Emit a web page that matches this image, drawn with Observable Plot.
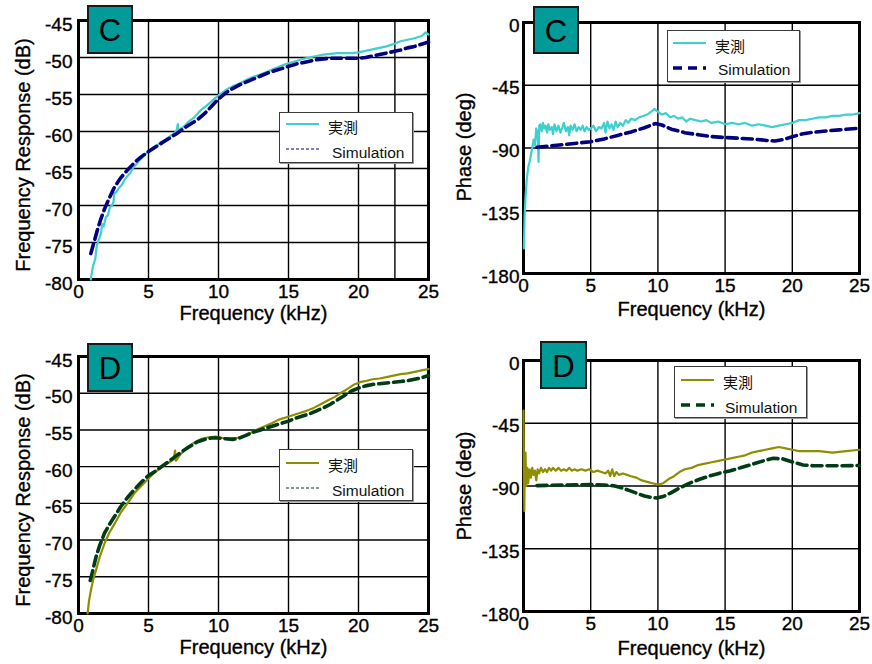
<!DOCTYPE html>
<html>
<head>
<meta charset="utf-8">
<script src="https://cdn.jsdelivr.net/npm/d3@7"></script>
<script src="https://cdn.jsdelivr.net/npm/@observablehq/plot@0.6"></script>
<style>
  html, body { margin: 0; padding: 0; background: #fff; }
  #root { position: relative; width: 872px; height: 664px; overflow: hidden; font-family: "Liberation Sans", Arial, sans-serif; }
  #root svg.panel text { stroke: #000; stroke-width: 0.35px; }
  .panel { position: absolute; }
  .tag { position: absolute; box-sizing: border-box; background: #009a98; border: 2px solid #1a1a1a;
         font: 31px "Liberation Sans", Arial, sans-serif; color: #000; display: flex; align-items: center; justify-content: center; padding-top: 3px; }
  .legend { position: absolute; box-sizing: border-box; background: #fff; border: 1px solid #3a3a3a; box-shadow: 1px 1px 0 #9a9a9a; }
  .legend svg { position: absolute; left: 0; top: 0; }
  .legend .t { position: absolute; white-space: nowrap; line-height: 1; color: #111; }
  .jp { font: 15px "Noto Sans CJK JP", sans-serif; }
  .en { font: 15.5px "Liberation Sans", Arial, sans-serif; }
</style>
</head>
<body>
<div id="root"></div>
<script>
// ---------------- data ----------------
const xTicks = [0, 5, 10, 15, 20, 25];
const dbTicks = [-80, -75, -70, -65, -60, -55, -50, -45];
const phaseTicks = [-180, -135, -90, -45, 0];
const extraGridC = [22.6];

const seriesNames = ["実測", "Simulation"];

// Panel C : frequency response (kHz, dB)
const cMagMeasured = [[0.88,-80],[1.0,-78.5],[1.1,-77.8],[1.2,-77.2],[1.3,-75.5],[1.45,-74.6],[1.6,-73.8],[1.7,-72.5],[1.8,-72.8],[1.95,-71.6],[2.1,-71.3],[2.25,-70.2],[2.4,-70],[2.5,-69.5],[2.55,-68.4],[2.7,-68.2],[2.9,-67.6],[3.1,-67.2],[3.3,-66.5],[3.5,-66],[3.7,-65.6],[3.9,-64.9],[4.1,-64.5],[4.4,-63.8],[4.7,-63.2],[5.0,-62.7],[5.3,-62.2],[5.6,-61.9],[5.9,-61.4],[6.2,-61.1],[6.5,-60.7],[6.8,-60.3],[7.0,-59.9],[7.1,-59.0],[7.15,-60.2],[7.3,-59.6],[7.6,-59.2],[7.9,-58.6],[8.2,-58.2],[8.5,-57.6],[8.8,-57.0],[9.1,-56.6],[9.4,-56.1],[9.7,-55.6],[10.0,-55.1],[10.3,-54.7],[10.6,-54.3],[11.0,-53.9],[11.5,-53.5],[12.0,-53.0],[12.5,-52.6],[13.0,-52.3],[13.5,-51.9],[14.0,-51.5],[14.5,-51.1],[15.0,-50.8],[15.5,-50.5],[16.0,-50.2],[16.5,-50.0],[17.0,-49.8],[17.5,-49.6],[18.0,-49.5],[18.5,-49.4],[19.0,-49.4],[19.5,-49.4],[20.0,-49.3],[20.5,-49.1],[21.0,-48.9],[21.5,-48.7],[22.0,-48.5],[22.6,-48.1],[23.0,-47.8],[23.5,-47.6],[24.0,-47.4],[24.5,-47.1],[24.8,-46.6],[25.0,-46.9]];
const cMagSim = [[0.88,-76.5],[1.1,-75],[1.35,-73.3],[1.6,-71.8],[1.85,-70.5],[2.2,-69],[2.55,-67.6],[3.0,-66.3],[3.5,-65.2],[4.0,-64.2],[4.5,-63.4],[5.0,-62.7],[5.5,-62.1],[6.0,-61.5],[6.5,-60.9],[7.0,-60.3],[7.5,-59.6],[8.0,-59.0],[8.5,-58.4],[9.0,-57.6],[9.5,-56.6],[10.0,-55.6],[10.5,-54.8],[11.0,-54.2],[11.5,-53.7],[12.0,-53.3],[12.5,-52.9],[13.0,-52.5],[13.5,-52.1],[14.0,-51.8],[14.5,-51.5],[15.0,-51.2],[15.5,-50.9],[16.0,-50.7],[16.5,-50.5],[17.0,-50.3],[17.5,-50.2],[18.0,-50.1],[18.5,-50.1],[19.0,-50.1],[19.5,-50.1],[20.0,-50.1],[20.5,-50.0],[21.0,-49.8],[21.5,-49.6],[22.0,-49.4],[22.5,-49.2],[23.0,-49.0],[23.5,-48.7],[24.0,-48.5],[24.5,-48.2],[25.0,-47.9]];

// Panel C : phase (kHz, deg)
const cPhaseMeasured = [[0.03,-162],[0.08,-140],[0.15,-125],[0.25,-112],[0.35,-104],[0.45,-100],[0.55,-95],[0.65,-90],[0.75,-84],[0.85,-88],[0.95,-76],[1.05,-80],[1.12,-100],[1.17,-74],[1.25,-73],[1.35,-78],[1.45,-72],[1.55,-76],[1.65,-74],[1.75,-79],[1.85,-73],[1.95,-77],[2.1,-75],[2.2,-80],[2.3,-73],[2.45,-78],[2.6,-74],[2.75,-79],[2.9,-75],[3.0,-72],[3.15,-78],[3.3,-75],[3.4,-81],[3.5,-74],[3.65,-77],[3.8,-73],[3.95,-78],[4.1,-75],[4.25,-77],[4.4,-74],[4.55,-78],[4.7,-75],[4.85,-77],[5.0,-76],[5.2,-74],[5.4,-78],[5.6,-75],[5.8,-76],[6.0,-72],[6.1,-79],[6.25,-71],[6.4,-76],[6.55,-73],[6.7,-77],[6.85,-71],[7.0,-75],[7.2,-72],[7.4,-74],[7.6,-70],[7.8,-72],[8.0,-69],[8.3,-70],[8.6,-68],[8.9,-67],[9.2,-66],[9.5,-64],[9.75,-62],[10.0,-64],[10.3,-66],[10.6,-65],[10.9,-68],[11.2,-67],[11.5,-69],[11.8,-68],[12.1,-71],[12.4,-69],[12.8,-70],[13.2,-71],[13.6,-70],[14.0,-72],[14.5,-71],[15.0,-73],[15.5,-72],[16.0,-73],[16.5,-72],[17.0,-74],[17.5,-73],[18.0,-74],[18.5,-75],[19.0,-74],[19.5,-73],[20.0,-72],[20.5,-70],[21.0,-70],[21.5,-69],[22.0,-68],[22.5,-68],[23.0,-67],[23.5,-67],[24.0,-66],[24.5,-66],[25.0,-65]];
const cPhaseSim = [[1.0,-89.5],[2.0,-88.5],[3.0,-87.5],[4.0,-86.5],[5.0,-85.5],[6.0,-83.5],[7.0,-81],[8.0,-78.5],[9.0,-75.5],[9.8,-72.5],[10.3,-73.5],[11.0,-76.5],[12.0,-79],[13.0,-80.5],[14.0,-81.8],[15.0,-82.5],[16.0,-83],[17.0,-83.5],[18.0,-84.5],[18.7,-85],[19.3,-84],[20.0,-82],[20.7,-80],[21.5,-78.8],[22.5,-77.8],[23.5,-77],[24.5,-76.2],[25.0,-75.8]];

// Panel D : frequency response (kHz, dB)
const dMagMeasured = [[0.65,-80],[0.75,-78.3],[0.89,-76.8],[1.05,-75.4],[1.25,-74.1],[1.5,-72.4],[1.85,-70.5],[2.2,-69],[2.57,-67.8],[3.0,-66.3],[3.5,-65],[4.0,-63.6],[4.5,-62.6],[5.0,-61.6],[5.5,-60.7],[6.0,-60],[6.5,-59.4],[6.8,-59],[6.9,-57.8],[6.95,-59.2],[7.3,-58.3],[7.8,-57.3],[8.3,-56.7],[8.8,-56.2],[9.3,-56.0],[9.8,-55.9],[10.3,-56.1],[10.8,-56.1],[11.3,-56.1],[11.8,-55.9],[12.3,-55.4],[12.8,-54.9],[13.3,-54.5],[13.8,-54.1],[14.3,-53.6],[14.8,-53.3],[15.3,-53.0],[15.8,-52.7],[16.3,-52.4],[16.8,-52.0],[17.3,-51.5],[17.8,-51.0],[18.3,-50.5],[18.8,-49.9],[19.3,-49.3],[19.7,-48.8],[20.1,-48.5],[20.6,-48.3],[21.0,-48.1],[21.5,-48.0],[22.0,-47.8],[22.5,-47.6],[23.0,-47.4],[23.5,-47.3],[24.0,-47.1],[24.5,-46.9],[25.0,-46.7]];
const dMagSim = [[0.84,-75.5],[1.0,-74.3],[1.25,-72.3],[1.5,-70.8],[1.85,-69.1],[2.2,-67.9],[2.57,-66.8],[3.0,-65.5],[3.5,-64.2],[4.0,-63.1],[4.5,-62.1],[5.0,-61.2],[5.5,-60.6],[6.0,-59.9],[6.5,-59.2],[7.0,-58.5],[7.5,-57.8],[8.0,-57.2],[8.5,-56.6],[9.0,-56.3],[9.5,-56.1],[10.0,-56.1],[10.5,-56.2],[11.0,-56.3],[11.5,-56.1],[12.0,-55.7],[12.5,-55.3],[13.0,-55.0],[13.5,-54.7],[14.0,-54.4],[14.5,-54.1],[15.0,-53.8],[15.5,-53.4],[16.0,-53.1],[16.5,-52.8],[17.0,-52.4],[17.5,-52.0],[18.0,-51.5],[18.5,-50.9],[19.0,-50.3],[19.5,-49.7],[20.0,-49.3],[20.5,-49.0],[21.0,-48.8],[21.5,-48.7],[22.0,-48.6],[22.5,-48.5],[23.0,-48.4],[23.5,-48.3],[24.0,-48.1],[24.5,-47.9],[25.0,-47.6]];

// Panel D : phase (kHz, deg)
const dPhaseMeasured = [[0.0,-36],[0.03,-80],[0.06,-108],[0.1,-72],[0.15,-66],[0.2,-90],[0.28,-77],[0.35,-88],[0.45,-78],[0.55,-84],[0.65,-77],[0.75,-82],[0.85,-79],[0.95,-86],[1.05,-78],[1.15,-81],[1.3,-77],[1.45,-80],[1.6,-78],[1.75,-80],[1.9,-77],[2.05,-79],[2.2,-77],[2.4,-79],[2.6,-77],[2.8,-79],[3.0,-78],[3.2,-79],[3.4,-77],[3.6,-79],[3.8,-78],[4.0,-79],[4.3,-78],[4.6,-79],[4.9,-78],[5.2,-80],[5.5,-79],[5.8,-80],[6.1,-81],[6.3,-79],[6.45,-83],[6.6,-78],[6.75,-83],[6.9,-80],[7.1,-82],[7.4,-81],[7.7,-82],[8.0,-83],[8.4,-84],[8.8,-86],[9.2,-87],[9.6,-88],[10.0,-89],[10.4,-88],[10.8,-85],[11.2,-83],[11.6,-80],[12.0,-78],[12.5,-77],[13.0,-75],[13.5,-74],[14.0,-73],[14.5,-72],[15.0,-71],[15.5,-70],[16.0,-69],[16.5,-68],[17.0,-66],[17.5,-65],[18.0,-64],[18.5,-63],[19.0,-62],[19.5,-63],[20.0,-64],[20.5,-65],[21.0,-65],[22.0,-65],[23.0,-66],[24.0,-65],[25.0,-64]];
const dPhaseSim = [[1.0,-89.7],[2.0,-89.5],[3.0,-89.3],[4.0,-89.1],[5.0,-89.0],[6.0,-89.3],[6.7,-89.8],[7.3,-91.3],[7.9,-93.3],[8.5,-95.5],[9.0,-97.2],[9.5,-98.2],[9.9,-98.6],[10.4,-97.5],[10.9,-95.3],[11.5,-92],[12.2,-88.6],[13.0,-85.5],[13.9,-82.6],[14.6,-80.8],[15.4,-79],[16.2,-76.8],[17.1,-74.2],[17.9,-71.8],[18.6,-70.1],[19.3,-70.6],[20.1,-73],[20.8,-74.9],[21.5,-75.4],[22.5,-75.5],[23.5,-75.5],[24.5,-75.4],[25.0,-75.3]];

// colours
const colC = { meas: "#3ecfcf", sim: "#000080" };
const colD = { meas: "#8e8e00", sim: "#003c14" };

// ---------------- drawing ----------------
const root = document.getElementById("root");
const FONT = "'Liberation Sans', Arial, sans-serif";

function panel(o) {
  const chart = Plot.plot({
    width: o.w, height: o.h,
    marginLeft: o.ml, marginRight: o.mr, marginTop: o.mt, marginBottom: o.mb,
    style: { fontFamily: FONT, fontSize: "19px", color: "#000", background: "transparent", overflow: "visible" },
    x: { domain: [0, 25] },
    y: { domain: o.yDomain },
    marks: [
      Plot.gridX(xTicks.concat(o.extraX || []), { stroke: "#000", strokeOpacity: 1, strokeWidth: 1.4 }),
      Plot.gridY(o.yTicks, { stroke: "#000", strokeOpacity: 1, strokeWidth: 1.4 }),
      Plot.frame({ stroke: "#000", strokeWidth: 3 }),
      Plot.line(o.meas, { x: d => d[0], y: d => d[1], stroke: o.col.meas, strokeWidth: 2.2 }),
      Plot.line(o.sim, { x: d => d[0], y: d => d[1], stroke: o.col.sim, strokeWidth: 3.6, strokeDasharray: "10,5" }),
      Plot.axisX(xTicks, { tickSize: 0, tickPadding: 5, label: null, fontSize: 19, tickFormat: d => String(d) }),
      Plot.axisY(o.yTicks, { tickSize: 0, tickPadding: o.ytp, label: null, fontSize: 19, dy: o.ydy, tickFormat: d => String(d) }),
      Plot.text(["Frequency (kHz)"], { frameAnchor: "bottom", dy: o.xdy, text: d => d, fontSize: 20, lineAnchor: "middle", fill: "#000" }),
      Plot.text([o.yTitle], { frameAnchor: "left", dx: o.ydx, dy: o.ytdy, text: d => d, fontSize: 20, rotate: -90, textAnchor: "middle", lineAnchor: "middle", fill: "#000" })
    ]
  });
  chart.classList.add("panel");
  chart.style.left = o.left + "px";
  chart.style.top = o.top + "px";
  root.appendChild(chart);
}

function tag(letter, x, y, w, h) {
  const d = document.createElement("div");
  d.className = "tag";
  d.style.left = x + "px"; d.style.top = y + "px";
  d.style.width = w + "px"; d.style.height = h + "px";
  d.textContent = letter;
  root.appendChild(d);
}

function legend(o) {
  const d = document.createElement("div");
  d.className = "legend";
  d.style.left = o.x + "px"; d.style.top = o.y + "px";
  d.style.width = o.w + "px"; d.style.height = o.h + "px";
  const ns = "http://www.w3.org/2000/svg";
  const svg = document.createElementNS(ns, "svg");
  svg.setAttribute("width", o.w); svg.setAttribute("height", o.h);
  const l1 = document.createElementNS(ns, "line");
  l1.setAttribute("x1", o.lx1); l1.setAttribute("x2", o.lx2);
  l1.setAttribute("y1", o.ly1); l1.setAttribute("y2", o.ly1);
  l1.setAttribute("stroke", o.col.meas); l1.setAttribute("stroke-width", 2.2);
  const l2 = document.createElementNS(ns, "line");
  l2.setAttribute("x1", o.lx1); l2.setAttribute("x2", o.lx2);
  l2.setAttribute("y1", o.ly2); l2.setAttribute("y2", o.ly2);
  l2.setAttribute("stroke", o.col.sim);
  l2.setAttribute("stroke-width", o.thick ? 3.6 : 1);
  l2.setAttribute("stroke-dasharray", o.thick ? "9,6" : "3,2");
  svg.appendChild(l1); svg.appendChild(l2);
  d.appendChild(svg);
  const t1 = document.createElement("div");
  t1.className = "t jp"; t1.textContent = seriesNames[0];
  t1.style.left = o.tx1 + "px"; t1.style.top = o.ty1 + "px";
  const t2 = document.createElement("div");
  t2.className = "t en"; t2.textContent = seriesNames[1];
  t2.style.left = o.tx2 + "px"; t2.style.top = o.ty2 + "px";
  d.appendChild(t1); d.appendChild(t2);
  root.appendChild(d);
}

// C magnitude
panel({ left: 0, top: 0, w: 436, h: 330, ml: 78, mr: 8, mt: 20, mb: 51,
  yDomain: [-80, -45], yTicks: dbTicks, extraX: extraGridC, meas: cMagMeasured, sim: cMagSim, col: colC,
  ytp: 6, ydy: 4, xdy: 34, ydx: -55, ytdy: 5, yTitle: "Frequency Response (dB)" });
// C phase
panel({ left: 436, top: 0, w: 436, h: 330, ml: 87, mr: 13, mt: 22, mb: 57,
  yDomain: [-180, 0], yTicks: phaseTicks, meas: cPhaseMeasured, sim: cPhaseSim, col: colC,
  ytp: 4, ydy: 3, xdy: 36, ydx: -59, ytdy: -1, yTitle: "Phase (deg)" });
// D magnitude
panel({ left: 0, top: 330, w: 436, h: 334, ml: 78, mr: 8, mt: 26, mb: 51,
  yDomain: [-80, -45], yTicks: dbTicks, meas: dMagMeasured, sim: dMagSim, col: colD,
  ytp: 6, ydy: 4, xdy: 34, ydx: -55, ytdy: 5, yTitle: "Frequency Response (dB)" });
// D phase
panel({ left: 436, top: 330, w: 436, h: 334, ml: 87, mr: 13, mt: 30, mb: 53,
  yDomain: [-180, 0], yTicks: phaseTicks, meas: dPhaseMeasured, sim: dPhaseSim, col: colD,
  ytp: 4, ydy: 3, xdy: 37, ydx: -59, ytdy: 0, yTitle: "Phase (deg)" });

tag("C", 87, 5, 46, 49);
tag("C", 533, 6, 46, 48);
tag("D", 87, 343, 46, 49);
tag("D", 540, 341, 47, 48);

legend({ x: 279, y: 112, w: 134, h: 51, col: colC, thick: false,
  lx1: 6, lx2: 39, ly1: 11, ly2: 36, tx1: 48, ty1: 6, tx2: 52, ty2: 32 });
legend({ x: 667, y: 30, w: 133, h: 52, col: colC, thick: true,
  lx1: 5, lx2: 38, ly1: 12, ly2: 37, tx1: 47, ty1: 7, tx2: 50, ty2: 31 });
legend({ x: 279, y: 449, w: 134, h: 52, col: colD, thick: false,
  lx1: 6, lx2: 39, ly1: 13, ly2: 38, tx1: 48, ty1: 7, tx2: 52, ty2: 33 });
legend({ x: 674, y: 366, w: 133, h: 52, col: colD, thick: true,
  lx1: 6, lx2: 39, ly1: 13, ly2: 38, tx1: 48, ty1: 7, tx2: 50, ty2: 33 });
</script>
</body>
</html>
